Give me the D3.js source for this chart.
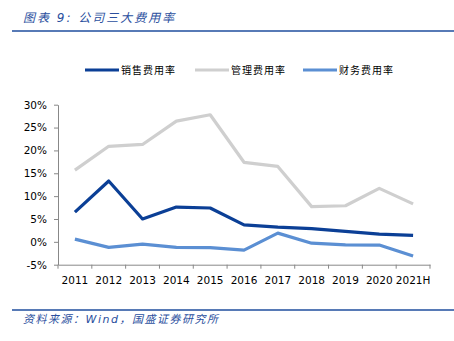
<!DOCTYPE html>
<html>
<head>
<meta charset="utf-8">
<script src="https://cdn.jsdelivr.net/npm/d3@7"></script>
<style>
body { margin: 0; background: #fff; }
text { font-family: Tahoma, "DejaVu Sans", "Noto Sans CJK SC", sans-serif; }
</style>
</head>
<body>
<script>
var years = ["2011","2012","2013","2014","2015","2016","2017","2018","2019","2020","2021H"];
var sales = [6.5, 13.3, 5.0, 7.6, 7.4, 3.7, 3.2, 2.9, 2.3, 1.7, 1.4];   // 销售费用率
var admin = [15.7, 20.9, 21.3, 26.4, 27.8, 17.4, 16.5, 7.7, 7.9, 11.7, 8.3]; // 管理费用率
var finance = [0.6, -1.2, -0.5, -1.2, -1.25, -1.8, 1.9, -0.3, -0.65, -0.7, -3.1]; // 财务费用率
var yTicks = [-5, 0, 5, 10, 15, 20, 25, 30];

var series = [
  {name: "销售费用率", values: sales, color: "#0b3f96"},
  {name: "管理费用率", values: admin, color: "#cfcfcf"},
  {name: "财务费用率", values: finance, color: "#5b8fd3"}
];

var width = 454, height = 341;
var svg = d3.select("body").append("svg")
  .attr("width", width).attr("height", height);

// 标题
svg.append("text")
  .attr("x", 23).attr("y", 22)
  .style("font-size", "12px")
  .style("font-style", "italic")
  .style("letter-spacing", "2px")
  .style("fill", "#2b4f9e")
  .text("图表 9:  公司三大费用率");
svg.append("line")
  .attr("x1", 12).attr("x2", 454).attr("y1", 31).attr("y2", 31)
  .style("stroke", "#1f4e9e").style("stroke-width", 1.5);

var x = d3.scaleBand().domain(years).range([58, 430]);
var y = d3.scaleLinear().domain([-5, 30]).range([264.7, 104.7]);

var xAxis = svg.append("g")
  .attr("transform", "translate(0," + y(-5) + ")")
  .call(d3.axisBottom(x).tickSize(4).tickSizeOuter(0));
xAxis.select(".domain").style("stroke", "#888");
xAxis.selectAll(".tick line").attr("transform", "translate(" + (-x.bandwidth() / 2) + ",0)").style("stroke", "#888");
xAxis.append("line").attr("x1", 430).attr("x2", 430).attr("y1", 0).attr("y2", 4).style("stroke", "#888");
xAxis.selectAll("text").style("font-size", "10.5px").style("fill", "#000").attr("dy", "1.15em");

var yAxis = svg.append("g")
  .attr("transform", "translate(58,0)")
  .call(d3.axisLeft(y).tickValues(yTicks).tickSize(4).tickSizeOuter(0).tickFormat(function(d){ return d + "%"; }));
yAxis.select(".domain").style("stroke", "#888");
yAxis.selectAll(".tick line").style("stroke", "#888");
yAxis.selectAll("text").style("font-size", "10.5px").style("fill", "#000").attr("x", -11);

var line = d3.line()
  .x(function(d, i){ return x(years[i]) + x.bandwidth() / 2; })
  .y(function(d){ return y(d); });

// 灰线先画，其余覆盖在上
[series[1], series[0], series[2]].forEach(function(s){
  svg.append("path")
    .datum(s.values)
    .attr("d", line)
    .style("fill", "none")
    .style("stroke", s.color)
    .style("stroke-width", 3.2)
    .style("stroke-linejoin", "round");
});

// 图例
var legendX = [85, 195, 303];
series.forEach(function(s, i){
  var g = svg.append("g").attr("transform", "translate(" + legendX[i] + ",70)");
  g.append("line").attr("x1", 0).attr("x2", 34).attr("y1", 0).attr("y2", 0)
    .style("stroke", s.color).style("stroke-width", 3.2);
  g.append("text").attr("x", 36).attr("y", 4)
    .style("font-size", "10px").style("fill", "#000")
    .style("letter-spacing", "1px")
    .text(s.name);
});

// 资料来源
svg.append("line")
  .attr("x1", 12).attr("x2", 454).attr("y1", 310).attr("y2", 310)
  .style("stroke", "#1f4e9e").style("stroke-width", 1.5);
svg.append("text")
  .attr("x", 23).attr("y", 323)
  .style("font-size", "11px")
  .style("font-style", "italic")
  .style("letter-spacing", "1.5px")
  .style("fill", "#2b4f9e")
  .text("资料来源：Wind，国盛证券研究所");
</script>
</body>
</html>
